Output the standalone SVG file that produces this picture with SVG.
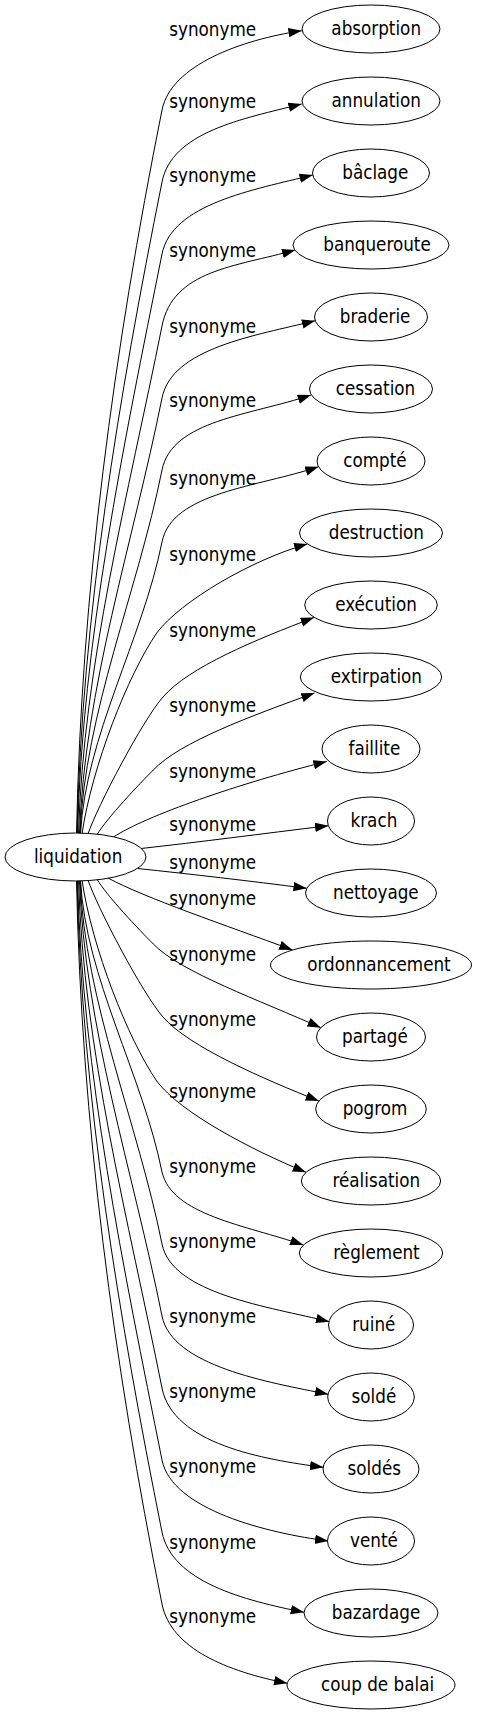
<svg xmlns="http://www.w3.org/2000/svg" width="477" height="1715" viewBox="0 0 477 1715">
<style>
text{font-family:'DejaVu Sans Condensed','DejaVu Sans',sans-serif;font-stretch:condensed;font-size:18.67px;fill:#000;text-anchor:middle}
.node ellipse{fill:#fff;stroke:#000;stroke-width:1}
.edge path{fill:none;stroke:#000;stroke-width:1;marker-end:url(#arr)}
</style>
<defs>
<marker id="arr" markerUnits="userSpaceOnUse" viewBox="0 0 14 10" markerWidth="14" markerHeight="10" refX="13.3" refY="4.67" orient="auto"><path d="M0,0 L13.3,4.67 L0,9.33 z" fill="#000"/></marker>
</defs>
<rect width="477" height="1715" fill="#fff"/>
<g id="connectors">
<g class="edge"><path d="M76.5,834 C81.3,592 113.8,351 162,110 C171,65 241.7,39.7 301.7,30.7"/><text x="212.7" y="36">synonyme</text></g>
<g class="edge"><path d="M77,834 C82,616 118.6,399 162,182 C172,132 241.7,119 301.7,104"/><text x="212.7" y="108.3">synonyme</text></g>
<g class="edge"><path d="M77.5,834 C82.5,640 123.4,447 162,254 C172,204 252.8,190 312.8,175"/><text x="212.7" y="181.7">synonyme</text></g>
<g class="edge"><path d="M78.5,834 C83.5,664 128.2,495 162,326 C173,270 235.3,266.8 295.3,250"/><text x="212.7" y="257.3">synonyme</text></g>
<g class="edge"><path d="M79.5,834 C84.5,688 133,543 162,398 C172,348 255.2,335.7 315.2,320.7"/><text x="212.7" y="332.7">synonyme</text></g>
<g class="edge"><path d="M80,834 C85,712 137.8,591 162,470 C172,420 251,415.4 311,395"/><text x="212.7" y="406.7">synonyme</text></g>
<g class="edge"><path d="M80.5,834 C85.5,736.4 142.6,639 162,542 C172,492 258.5,487.1 318.5,466.7"/><text x="212.7" y="485">synonyme</text></g>
<g class="edge"><path d="M82,834 C92,766 128,675 156.7,633 C180.7,601 252.4,559.4 307.4,544"/><text x="212.7" y="560.7">synonyme</text></g>
<g class="edge"><path d="M88,834 C97,807 143,719.5 163,697 C189,667 255,640 314,617.5"/><text x="212.7" y="637.3">synonyme</text></g>
<g class="edge"><path d="M97,834.7 C107,818 139.2,784.1 153.3,770 C180,742 250,716.4 314.5,693"/><text x="212.7" y="711.7">synonyme</text></g>
<g class="edge"><path d="M113.3,837.2 C145,816 240,783 326.7,761.5"/><text x="212.7" y="777.7">synonyme</text></g>
<g class="edge"><path d="M141,848.5 C200,842 260,834 328.3,825.7"/><text x="212.7" y="831">synonyme</text></g>
<g class="edge"><path d="M137.5,868.5 C190,874 250,881 306.7,888.3"/><text x="212.7" y="869">synonyme</text></g>
<g class="edge"><path d="M108,878 C145,898 225,925 292.5,950"/><text x="212.7" y="905">synonyme</text></g>
<g class="edge"><path d="M97,879.3 C107,896 139.2,929.9 153.3,944 C180,972 260.8,1000.7 320.8,1027.7"/><text x="212.7" y="960.7">synonyme</text></g>
<g class="edge"><path d="M88,880 C97,907 143,994.5 163,1017 C189,1047 263.9,1079 318.9,1101"/><text x="212.7" y="1025.7">synonyme</text></g>
<g class="edge"><path d="M82,880 C92,948 128,1039 156.7,1081 C180.7,1113 251,1149.6 306,1172.3"/><text x="212.7" y="1098.3">synonyme</text></g>
<g class="edge"><path d="M80.5,880 C85.5,977.6 142.6,1075 162,1172 C172,1215 245,1225 303.4,1245"/><text x="212.7" y="1173.3">synonyme</text></g>
<g class="edge"><path d="M80,880 C85,1002 137.8,1123 162,1244 C172,1294 269.3,1306.7 329.3,1321.7"/><text x="212.7" y="1248.3">synonyme</text></g>
<g class="edge"><path d="M79.5,880 C84.5,1026 133,1171 162,1316 C172,1366 268.3,1382.3 328.3,1394.3"/><text x="212.7" y="1322.7">synonyme</text></g>
<g class="edge"><path d="M78.5,880 C83.5,1050 128.2,1219 162,1388 C173,1444 263.3,1459.5 323.3,1467.3"/><text x="212.7" y="1398.3">synonyme</text></g>
<g class="edge"><path d="M77.5,880 C82.5,1074 123.4,1267 162,1460 C172,1510 268.3,1533.2 328.3,1541"/><text x="212.7" y="1473.3">synonyme</text></g>
<g class="edge"><path d="M77,880 C82,1098 118.6,1315 162,1532 C172,1582 244,1600.3 304,1612.3"/><text x="212.7" y="1549">synonyme</text></g>
<g class="edge"><path d="M76.5,880 C81.3,1122 113.8,1363 162,1604 C171,1649 227.3,1671.3 287.3,1683.3"/><text x="212.7" y="1622.7">synonyme</text></g>
</g>
<g id="node-liquidation" class="node"><ellipse cx="75.5" cy="857" rx="70.5" ry="24"/><text x="78.1" y="862.7">liquidation</text></g>
<g id="node-absorption" class="node"><ellipse cx="371" cy="29" rx="69" ry="24"/><text x="376.2" y="34.7">absorption</text></g>
<g id="node-annulation" class="node"><ellipse cx="371" cy="101" rx="69" ry="24"/><text x="376.2" y="106.7">annulation</text></g>
<g id="node-baclage" class="node"><ellipse cx="371" cy="173" rx="58.5" ry="24"/><text x="375.3" y="178.7">bâclage</text></g>
<g id="node-banqueroute" class="node"><ellipse cx="371" cy="245" rx="78" ry="24"/><text x="377" y="250.7">banqueroute</text></g>
<g id="node-braderie" class="node"><ellipse cx="371" cy="317" rx="56.5" ry="24"/><text x="375.1" y="322.7">braderie</text></g>
<g id="node-cessation" class="node"><ellipse cx="371" cy="389" rx="61.5" ry="24"/><text x="375.5" y="394.7">cessation</text></g>
<g id="node-compte" class="node"><ellipse cx="371" cy="461" rx="54" ry="24"/><text x="374.9" y="466.7">compté</text></g>
<g id="node-destruction" class="node"><ellipse cx="371" cy="533" rx="71.5" ry="24"/><text x="376.4" y="538.7">destruction</text></g>
<g id="node-execution" class="node"><ellipse cx="371" cy="605" rx="66.3" ry="24"/><text x="376" y="610.7">exécution</text></g>
<g id="node-extirpation" class="node"><ellipse cx="371" cy="677" rx="70.7" ry="24"/><text x="376.4" y="682.7">extirpation</text></g>
<g id="node-faillite" class="node"><ellipse cx="371" cy="749" rx="49" ry="24"/><text x="374.4" y="754.7">faillite</text></g>
<g id="node-krach" class="node"><ellipse cx="371" cy="821" rx="43.5" ry="24"/><text x="373.9" y="826.7">krach</text></g>
<g id="node-nettoyage" class="node"><ellipse cx="371" cy="893" rx="65.5" ry="24"/><text x="375.9" y="898.7">nettoyage</text></g>
<g id="node-ordonnancement" class="node"><ellipse cx="371" cy="965" rx="100.5" ry="24"/><text x="379" y="970.7">ordonnancement</text></g>
<g id="node-partage" class="node"><ellipse cx="371" cy="1037" rx="54.5" ry="24"/><text x="374.9" y="1042.7">partagé</text></g>
<g id="node-pogrom" class="node"><ellipse cx="371" cy="1109" rx="55.3" ry="24"/><text x="375" y="1114.7">pogrom</text></g>
<g id="node-realisation" class="node"><ellipse cx="371" cy="1181" rx="69.7" ry="24"/><text x="376.3" y="1186.7">réalisation</text></g>
<g id="node-reglement" class="node"><ellipse cx="371" cy="1253" rx="71.7" ry="24"/><text x="376.5" y="1258.7">règlement</text></g>
<g id="node-ruine" class="node"><ellipse cx="371" cy="1325" rx="42.5" ry="24"/><text x="373.8" y="1330.7">ruiné</text></g>
<g id="node-solde" class="node"><ellipse cx="371" cy="1397" rx="43.3" ry="24"/><text x="373.9" y="1402.7">soldé</text></g>
<g id="node-soldes" class="node"><ellipse cx="371" cy="1469" rx="48" ry="24"/><text x="374.3" y="1474.7">soldés</text></g>
<g id="node-vente" class="node"><ellipse cx="371" cy="1541" rx="43.5" ry="24"/><text x="373.9" y="1546.7">venté</text></g>
<g id="node-bazardage" class="node"><ellipse cx="371" cy="1613" rx="67" ry="24"/><text x="376" y="1618.7">bazardage</text></g>
<g id="node-coup-de-balai" class="node"><ellipse cx="371" cy="1685" rx="84" ry="24"/><text x="377.6" y="1690.7">coup de balai</text></g>
</svg>
